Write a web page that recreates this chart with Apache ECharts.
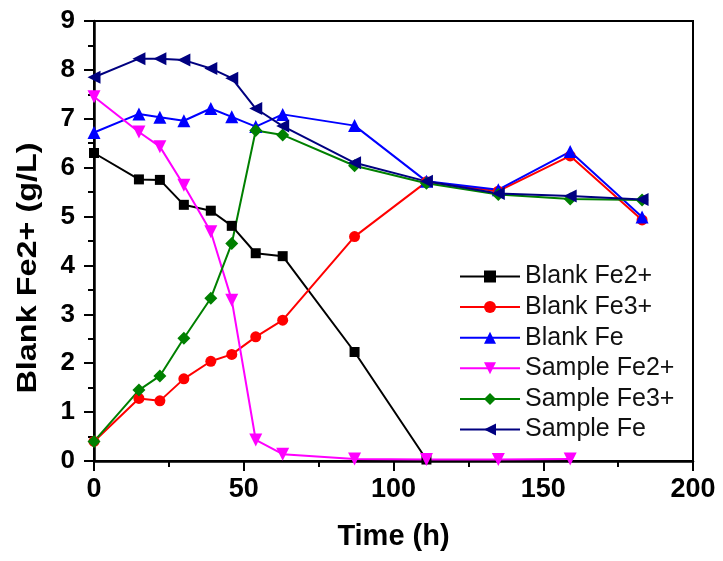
<!DOCTYPE html>
<html>
<head>
<meta charset="utf-8">
<script src="https://cdn.jsdelivr.net/npm/echarts@6/dist/echarts.min.js"></script>
<style>
html,body{margin:0;padding:0;background:#fff;}
#c{width:723px;height:561px;}
</style>
</head>
<body>
<div id="c"></div>
<script>
const times = [0, 15, 22, 30, 39, 46, 54, 63, 87, 111, 135, 159, 183];
const blankFe2 = [6.30, 5.76, 5.75, 5.24, 5.12, 4.81, 4.25, 4.19, 2.23, 0.03];
const blankFe3 = [0.40, 1.28, 1.23, 1.68, 2.04, 2.18, 2.54, 2.88, 4.59, 5.71, 5.52, 6.24, 4.93];
const blankFe = [6.72, 7.10, 7.03, 6.96, 7.21, 7.04, 6.84, 7.09, 6.86, 5.72, 5.55, 6.33, 4.99];
const sampleFe2 = [7.45, 6.73, 6.43, 5.64, 4.69, 3.29, 0.43, 0.14, 0.04, 0.03, 0.03, 0.04];
const sampleFe3 = [0.40, 1.45, 1.74, 2.51, 3.33, 4.45, 6.76, 6.67, 6.04, 5.68, 5.45, 5.36, 5.34];
const sampleFe = [7.85, 8.23, 8.23, 8.20, 8.03, 7.83, 7.21, 6.85, 6.10, 5.72, 5.47, 5.42, 5.35];
const seriesNames = ['Blank Fe2+', 'Blank Fe3+', 'Blank Fe', 'Sample Fe2+', 'Sample Fe3+', 'Sample Fe'];
const xTitle = 'Time (h)';
const yTitle = 'Blank Fe2+ (g/L)';
const xTicks = [0, 50, 100, 150, 200];
const yTicks = [0, 1, 2, 3, 4, 5, 6, 7, 8, 9];

const pair = arr => arr.map((v, i) => [times[i], v]);
const FONT = '"Liberation Sans", Arial, sans-serif';

function mk(name, data, color, symbol, size, rot) {
  return {
    name, type: 'line', data: pair(data),
    symbol, symbolSize: size, symbolRotate: rot || 0,
    lineStyle: {color, width: 2},
    itemStyle: {color},
    animation: false
  };
}

const chart = echarts.init(document.getElementById('c'));
chart.setOption({
  backgroundColor: '#fff',
  animation: false,
  grid: {left: 94, right: 30, top: 21, bottom: 100, show: true, borderColor: '#000', borderWidth: 2, backgroundColor: 'transparent'},
  legend: {
    orient: 'vertical', left: 454, top: 259,
    itemWidth: 60, itemHeight: 15, itemGap: 5.6,
    textStyle: {fontFamily: FONT, fontSize: 25, color: '#111'},
    data: seriesNames
  },
  graphic: [{
    type: 'text', x: 29, y: 268, rotation: Math.PI / 2, scaleX: 1.2, scaleY: 1,
    style: {text: yTitle, font: 'bold 27px ' + FONT, fill: '#000',
      align: 'center', verticalAlign: 'middle', textAlign: 'center', textVerticalAlign: 'middle'}
  }],
  xAxis: {
    type: 'value', min: xTicks[0], max: xTicks[xTicks.length - 1], interval: 50,
    name: xTitle, nameLocation: 'middle', nameGap: 61,
    nameTextStyle: {fontFamily: FONT, fontSize: 29, fontWeight: 'bold', color: '#000'},
    axisLine: {lineStyle: {color: '#000', width: 2.5}},
    axisTick: {length: 10, lineStyle: {color: '#000', width: 2}},
    minorTick: {show: true, splitNumber: 2, length: 6, lineStyle: {color: '#000', width: 2}},
    axisLabel: {fontFamily: FONT, fontSize: 27, fontWeight: 'bold', color: '#000', margin: 15},
    splitLine: {show: false}
  },
  yAxis: {
    type: 'value', min: yTicks[0], max: yTicks[yTicks.length - 1], interval: 1,
    axisLine: {lineStyle: {color: '#000', width: 2.5}},
    axisTick: {length: 10, lineStyle: {color: '#000', width: 2}},
    minorTick: {show: true, splitNumber: 2, length: 6, lineStyle: {color: '#000', width: 2}},
    axisLabel: {fontFamily: FONT, fontSize: 26, fontWeight: 'bold', color: '#000', margin: 19},
    splitLine: {show: false}
  },
  series: [
    mk(seriesNames[0], blankFe2, '#000000', 'rect', 10),
    mk(seriesNames[1], blankFe3, '#ff0000', 'circle', 11),
    mk(seriesNames[2], blankFe, '#0000ff', 'triangle', 13),
    mk(seriesNames[3], sampleFe2, '#ff00ff', 'triangle', 13, 180),
    mk(seriesNames[4], sampleFe3, '#008000', 'diamond', 13),
    mk(seriesNames[5], sampleFe, '#000080', 'triangle', 13, 90)
  ]
});
</script>
</body>
</html>
